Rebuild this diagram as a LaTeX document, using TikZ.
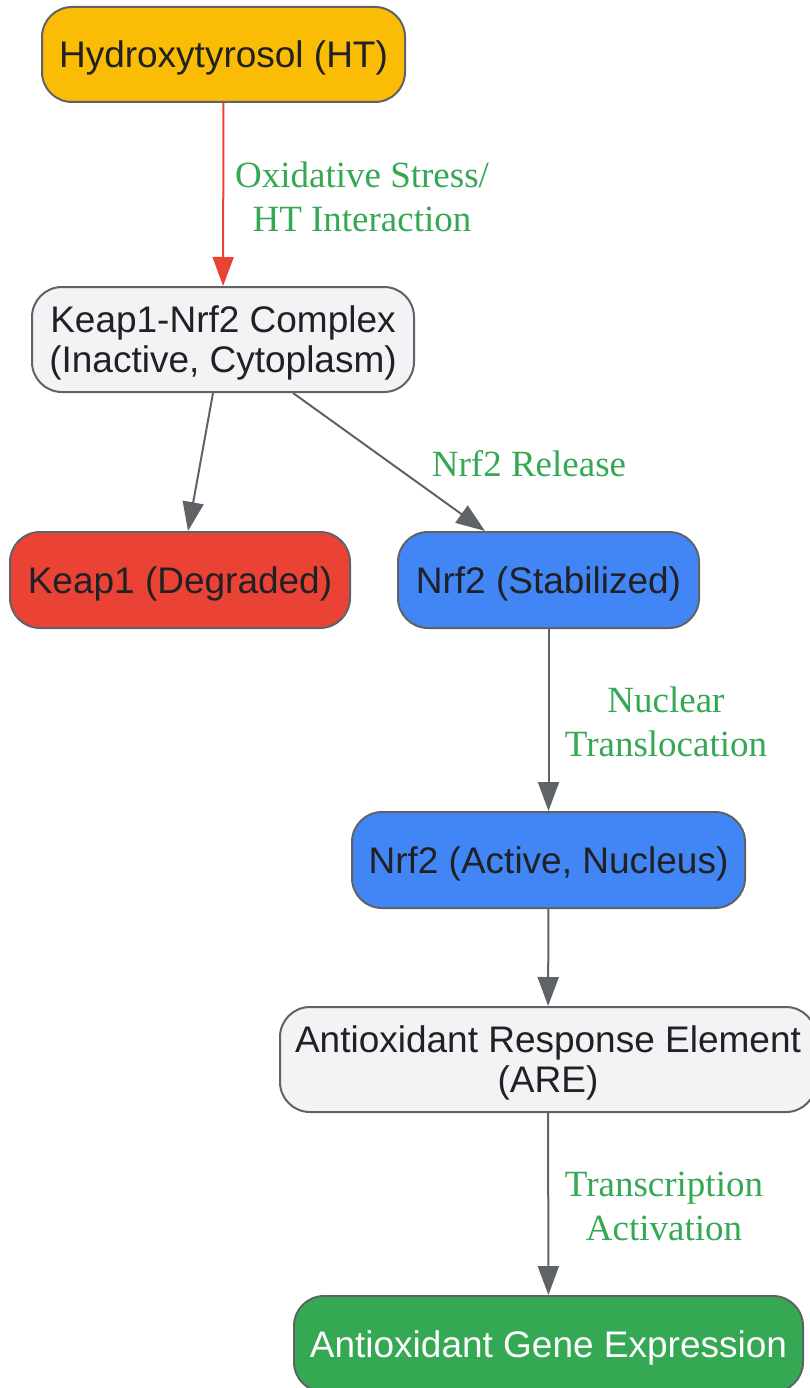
\documentclass[tikz,border=0pt]{standalone}
\usepackage{fontspec}
\setmainfont{Liberation Sans}
\newfontfamily\lblfont{Liberation Serif}
\usetikzlibrary{arrows.meta}
\definecolor{cYellow}{HTML}{FBBC05}
\definecolor{cLight}{HTML}{F1F3F4}
\definecolor{cRed}{HTML}{EA4335}
\definecolor{cBlue}{HTML}{4285F4}
\definecolor{cGreen}{HTML}{34A853}
\definecolor{cBorder}{HTML}{5F6368}
\definecolor{cText}{HTML}{202124}
\tikzset{
  box/.style={draw=cBorder, line width=2pt, rounded corners=30pt, text=cText,
    font=\fontsize{37}{40}\selectfont, align=center, inner sep=0pt, text depth=0pt},
  arr/.style={draw=cBorder, line width=2pt, -{Triangle[width=21pt,length=29pt]}},
  redarr/.style={draw=cRed, line width=2pt, -{Triangle[width=21pt,length=29pt]}},
  lbl/.style={text=cGreen, font=\lblfont\fontsize{37}{44}\selectfont, align=center, inner sep=0pt}
}
\begin{document}
\begin{tikzpicture}[x=1pt,y=-1pt]
\useasboundingbox (0,0) rectangle (810,1388);
\clip (0,0) rectangle (810,1388);
\node[box, fill=cYellow, minimum width=363pt, minimum height=95pt] (ht) at (223.5,54.5) {Hydroxytyrosol (HT)};
\node[box, fill=cLight, minimum width=382pt, minimum height=105pt] (kn) at (223,339.5) {Keap1-Nrf2 Complex\\(Inactive, Cytoplasm)};
\node[box, fill=cRed, minimum width=340pt, minimum height=96pt] (k1) at (180,580) {Keap1 (Degraded)};
\node[box, fill=cBlue, minimum width=301pt, minimum height=96pt] (ns) at (548.5,580) {Nrf2 (Stabilized)};
\node[box, fill=cBlue, minimum width=393pt, minimum height=96pt] (na) at (548.5,860) {Nrf2 (Active, Nucleus)};
\node[box, fill=cLight, minimum width=536pt, minimum height=105pt] (are) at (548,1059.5) {Antioxidant Response Element\\(ARE)};
\node[box, fill=cGreen, text=white, minimum width=509pt, minimum height=96pt] (gene) at (548.5,1344) {Antioxidant Gene Expression};

\draw[redarr] (ht) -- (kn);
\draw[arr] ([xshift=-10pt]kn.south) -- ([xshift=8pt]k1.north);
\draw[arr] ([xshift=70pt]kn.south) -- ([xshift=-63.5pt]ns.north);
\draw[arr] (ns) -- (na);
\draw[arr] (na) -- (are);
\draw[arr] (are) -- (gene);

\node[lbl] (l1) at (362,197) {Oxidative Stress/\\HT Interaction};
\node[lbl] (l2) at (529,464) {Nrf2 Release};
\node[lbl] (l3) at (666,722) {Nuclear\\Translocation};
\node[lbl] (l4) at (664,1206) {Transcription\\Activation};
\end{tikzpicture}
\end{document}
